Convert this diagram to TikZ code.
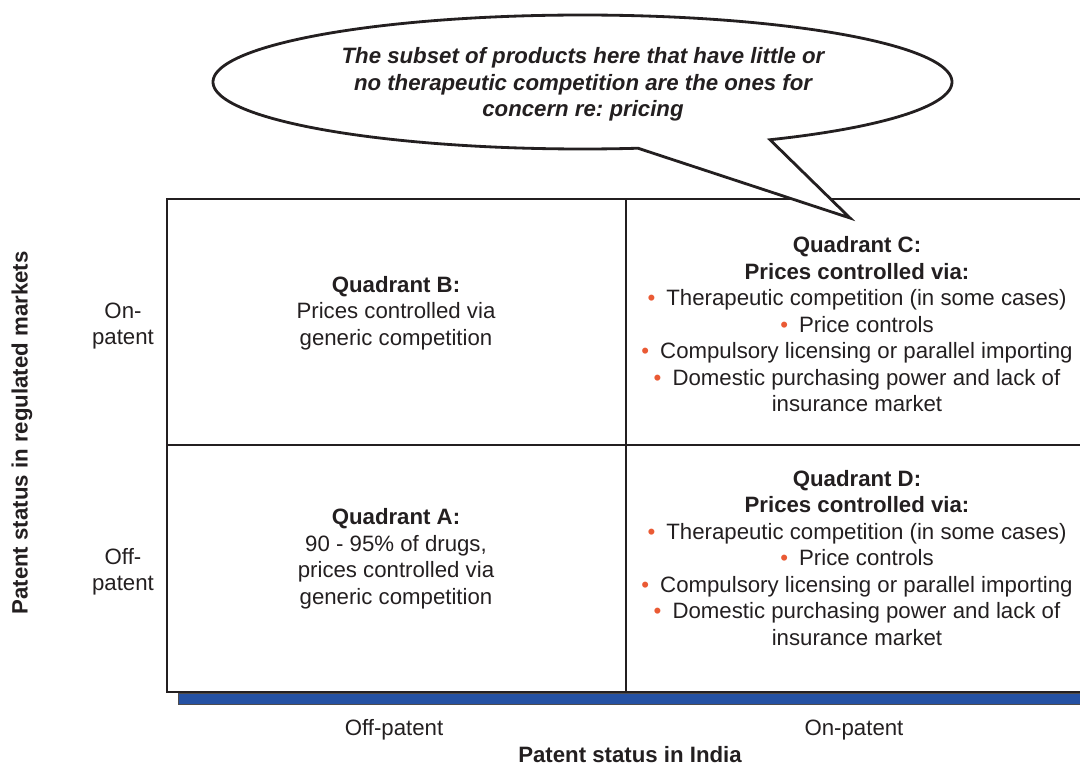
\documentclass[tikz,border=0pt]{standalone}
\usepackage{fontspec}
\setmainfont{Liberation Sans}
\frenchspacing
\definecolor{barblue}{RGB}{37,81,163}
\definecolor{ink}{RGB}{35,31,32}
\definecolor{bulletc}{RGB}{234,90,52}
\newcommand{\bul}{{\color{bulletc}\textbullet}\hspace{0.5em}}
\tikzset{
  txt/.style={font=\fontsize{15.8}{18.85}\selectfont, text=ink, align=center, inner sep=0pt},
  btxt/.style={txt, font=\fontsize{15.8}{18.85}\selectfont\bfseries},
  grid line/.style={draw=ink, line width=1pt},
  bubble/.style={draw=ink, fill=white, line width=2pt, line join=miter},
  bar/.style={fill=barblue, draw=ink!80, line width=0.6pt}
}
\begin{document}
\begin{tikzpicture}[x=0.025cm, y=-0.025cm]
\useasboundingbox (0,0) rectangle (1080,767);

% grid
\coordinate (tl) at (167,199);
\coordinate (tr) at (1081,199);
\coordinate (ml) at (167,445);
\coordinate (mr) at (1081,445);
\coordinate (bl) at (167,692);
\coordinate (br) at (1081,692);
\coordinate (tm) at (626,199);
\coordinate (bm) at (626,692);
\draw[bar] (178,693) rectangle (1082,704);
\draw[grid line] (tr) -- (tl) -- (bl) -- (br);
\draw[grid line] (ml) -- (mr);
\draw[grid line] (tm) -- (bm);

% speech bubble
\draw[bubble] plot[domain=81.36:419.51, samples=240] ({582.5+369.5*cos(\x)},{82+67*sin(\x)}) -- (850,218) -- cycle;
\node[txt, font=\fontsize{15.8}{18.85}\selectfont\bfseries\itshape] (note) at (583,84.5)
  {The subset of products here that have little or\\no therapeutic competition are the ones for\\concern re: pricing};

% quadrants
\node[txt] (qb) at (396,313) {\textbf{Quadrant B:}\\Prices controlled via\\generic competition};
\node[txt] (qa) at (396,559) {\textbf{Quadrant A:}\\90 - 95\% of drugs,\\prices controlled via\\generic competition};
\node[txt] (qc) at (857,324.5) {\textbf{Quadrant C:}\\\textbf{Prices controlled via:}\\\bul Therapeutic competition (in some cases)\\\bul Price controls\\\bul Compulsory licensing or parallel importing\\\bul Domestic purchasing power and lack of\\insurance market};
\node[txt] (qd) at (857,558) {\textbf{Quadrant D:}\\\textbf{Prices controlled via:}\\\bul Therapeutic competition (in some cases)\\\bul Price controls\\\bul Compulsory licensing or parallel importing\\\bul Domestic purchasing power and lack of\\insurance market};

% axis labels
\node[txt] (on) at (123,326) {On-\\patent};
\node[txt] (off) at (123,572) {Off-\\patent};
\node[btxt, rotate=90] (ylab) at (22,433) {Patent status in regulated markets};
\node[txt] (xoff) at (394,730) {Off-patent};
\node[txt] (xon) at (854,730) {On-patent};
\node[btxt] (xlab) at (630,754.5) {Patent status in India};
\end{tikzpicture}
\end{document}
